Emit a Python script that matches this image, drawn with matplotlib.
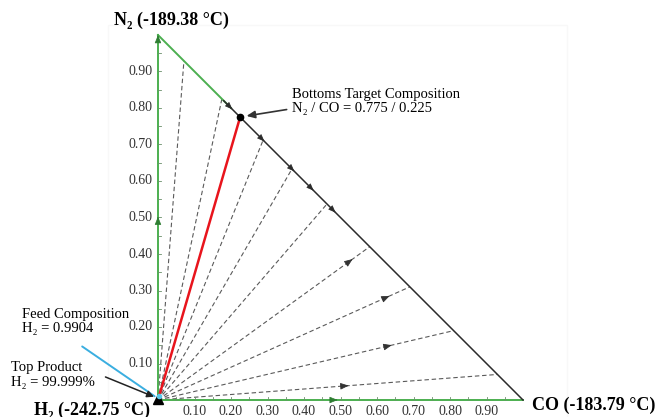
import matplotlib.pyplot as plt
import numpy as np
from matplotlib.patches import Rectangle

# Dados do diagrama ternário (frações molares: x = CO, y = N2)
tick_vals = [0.10, 0.20, 0.30, 0.40, 0.50, 0.60, 0.70, 0.80, 0.90]
tick_labels = ["0.10", "0.20", "0.30", "0.40", "0.50", "0.60", "0.70", "0.80", "0.90"]
minor_vals = np.arange(0.05, 1.0, 0.05)

# pontos finais das curvas de resíduo na aresta N2-CO (fração de CO)
curve_end_co = [0.071, 0.175, 0.288, 0.367, 0.463, 0.58, 0.69, 0.81, 0.93]
# setas ao longo das curvas (posição relativa), só nas curvas de baixo
arrow_curve_idx = [5, 6, 7, 8]
arrow_curve_frac = [0.90, 0.90, 0.77, 0.54]
# setas ao longo da aresta N2-CO (fração de CO)
edge_arrow_co = [0.197, 0.285, 0.367, 0.42, 0.48]

bottoms_co, bottoms_n2 = 0.225, 0.775

SERIF = ["Liberation Serif", "DejaVu Serif"]
GREEN = "#4caf50"
DASH = "#5a5a5a"

fig = plt.figure(figsize=(6.58, 4.17), dpi=100)
ax = fig.add_axes([0, 0, 1, 1])
ax.set_xlim(-158 / 365, 500 / 365)
ax.set_ylim(-17 / 365, 400 / 365)
ax.axis("off")

# moldura clara da captura
ax.add_patch(Rectangle((-50 / 365, -0.2), 459 / 365, 0.2 + 375 / 365,
                       fill=False, edgecolor="#f8f8f8", lw=1, zorder=0))

# curvas de resíduo (tracejadas)
for co in curve_end_co:
    ax.plot([0, co], [0, 1 - co], linestyle=(0, (4, 2.5)), color=DASH, lw=0.8, zorder=2)

for i, f in zip(arrow_curve_idx, arrow_curve_frac):
    co = curve_end_co[i]
    x0, y0 = co * f, (1 - co) * f
    dx, dy = co * 0.03, (1 - co) * 0.03
    ax.annotate("", xy=(x0 + dx, y0 + dy), xytext=(x0, y0),
                arrowprops=dict(arrowstyle="-|>,head_length=0.5,head_width=0.2",
                                color="#333333", lw=0.6), zorder=3)

# eixos verdes
ax.plot([0, 0], [0, 1], color=GREEN, lw=1.4, zorder=3)
ax.plot([0, 1], [0, 0], color=GREEN, lw=1.4, zorder=3)
# aresta N2-CO
ax.plot([0, 0.2], [1, 0.8], color=GREEN, lw=1.4, zorder=3)
ax.plot([0.18, 1], [0.82, 0], color="#2b2b2b", lw=1.1, zorder=3)

for co in edge_arrow_co:
    ax.annotate("", xy=(co + 0.012, 1 - co - 0.012), xytext=(co, 1 - co),
                arrowprops=dict(arrowstyle="-|>,head_length=0.45,head_width=0.18",
                                color="#2b2b2b", lw=0.5), zorder=4)

# setas verdes nos eixos
for (x0, y0, dx, dy) in [(0, 0.49, 0, 0.02), (0.48, 0, 0.02, 0), (0, 0.985, 0, 0.015)]:
    ax.annotate("", xy=(x0 + dx, y0 + dy), xytext=(x0, y0),
                arrowprops=dict(arrowstyle="-|>,head_length=0.5,head_width=0.2",
                                color="#2e7d32", lw=0.5), zorder=4)

# marcas menores
for v in minor_vals:
    ax.plot([0, 0.009], [v, v], color="#6a8f6a", lw=0.6, zorder=3)
    ax.plot([v, v], [0, 0.009], color="#6a8f6a", lw=0.6, zorder=3)

# rótulos dos eixos
for v, lab in zip(tick_vals, tick_labels):
    ax.text(-0.016, v, lab, ha="right", va="center", fontsize=10, family=SERIF, color="#333333")
    ax.text(v, -0.031, lab, ha="center", va="center", fontsize=10, family=SERIF, color="#333333")

# linha vermelha até a composição de fundo
ax.plot([0, bottoms_co], [0, bottoms_n2], color="#e8141c", lw=1.8, zorder=5)
ax.plot(bottoms_co, bottoms_n2, "o", color="black", ms=4.5, zorder=6)

# vértice H2
ax.plot(0, 0.002, "^", color="black", ms=7, zorder=6)
ax.plot(0.004, 0.01, "o", color="#5bc8e8", ms=3, zorder=7)

# rótulos dos vértices
ax.text(0.036, 1.041, "N₂ (-189.38 °C)", ha="center", va="center", fontsize=13,
        fontweight="bold", family=SERIF)
ax.text(-0.022, -0.027, "H₂ (-242.75 °C)", ha="right", va="center", fontsize=13,
        fontweight="bold", family=SERIF)
ax.text(1.025, -0.014, "CO (-183.79 °C)", ha="left", va="center", fontsize=13,
        fontweight="bold", family=SERIF)

# anotações
ax.text(0.367, 0.818, "Bottoms Target Composition\nN₂ / CO = 0.775 / 0.225",
        ha="left", va="center", fontsize=10.5, family=SERIF, linespacing=1.15)
ax.annotate("", xy=(bottoms_co + 0.01, bottoms_n2 + 0.002), xytext=(0.36, 0.797),
            arrowprops=dict(arrowstyle="-|>,head_length=0.5,head_width=0.22",
                            color="#333333", lw=1.2), zorder=6)

ax.text(-0.372, 0.215, "Feed Composition\nH₂ = 0.9904",
        ha="left", va="center", fontsize=10.5, family=SERIF, linespacing=1.15)
ax.annotate("", xy=(-0.003, 0.006), xytext=(-0.214, 0.151),
            arrowprops=dict(arrowstyle="-", color="#3aaee0", lw=1.4), zorder=5)

ax.text(-0.402, 0.068, "Top Product\nH₂ = 99.999%",
        ha="left", va="center", fontsize=10.5, family=SERIF, linespacing=1.15)
ax.annotate("", xy=(-0.004, 0.006), xytext=(-0.151, 0.066),
            arrowprops=dict(arrowstyle="-|>,head_length=0.4,head_width=0.2",
                            color="#222222", lw=1.1), zorder=5)

fig.savefig("out.png", dpi=100)
plt.close(fig)
